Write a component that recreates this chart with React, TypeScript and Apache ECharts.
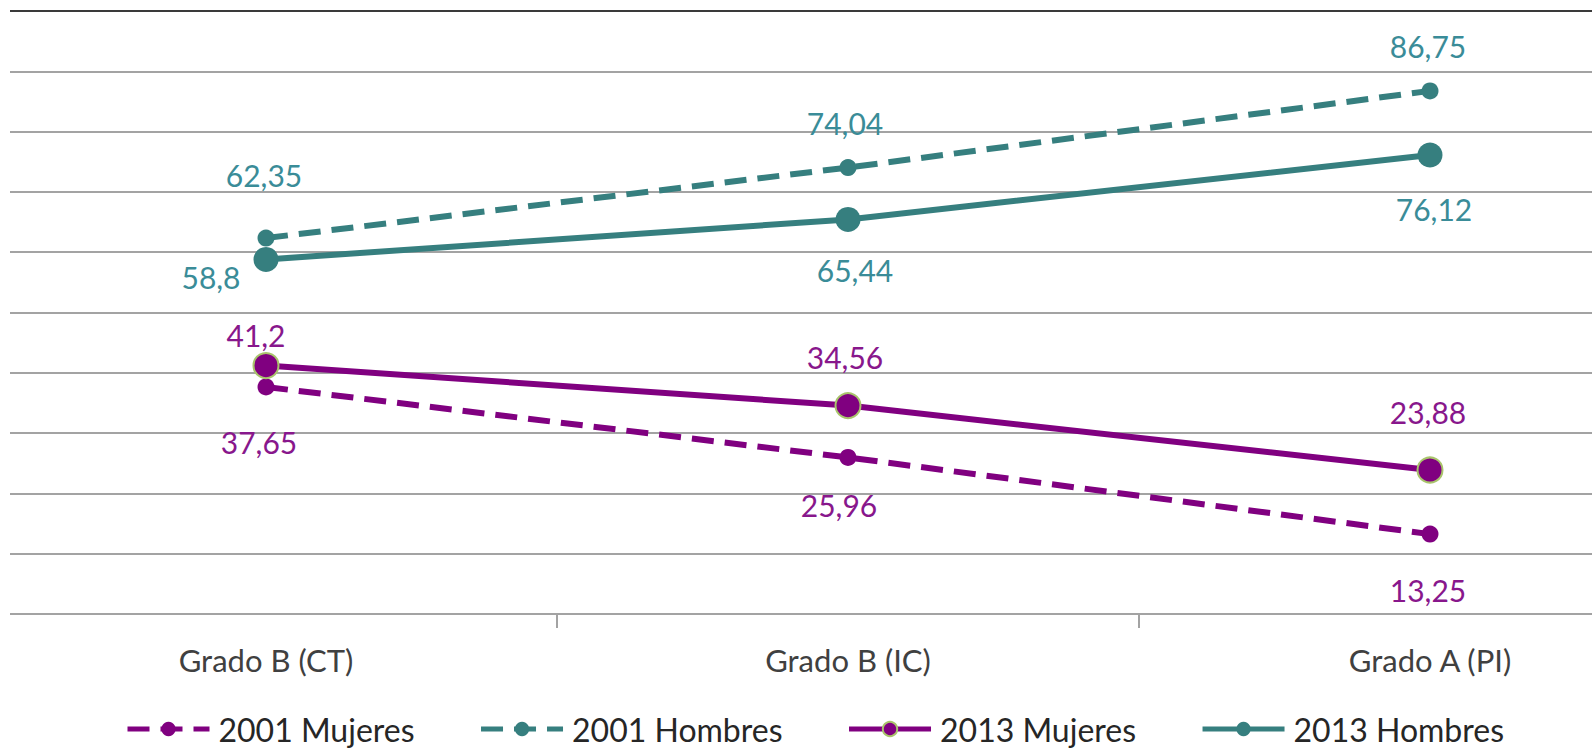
import React, { useEffect, useRef } from "react";
import * as echarts from "echarts";

const categories = ["Grado B (CT)", "Grado B (IC)", "Grado A (PI)"];
const mujeres2001 = [37.65, 25.96, 13.25];
const hombres2001 = [62.35, 74.04, 86.75];
const mujeres2013 = [41.2, 34.56, 23.88];
const hombres2013 = [58.8, 65.44, 76.12];
const seriesNames = ["2001 Mujeres", "2001 Hombres", "2013 Mujeres", "2013 Hombres"];

// label placement (style only)
const offMujeres2001 = [[-7, 55], [-9, 48], [-2, 56]];
const offHombres2001 = [[-2, -63], [-3, -45], [-2, -45]];
const offMujeres2013 = [[-10, -31], [-3, -49], [-2, -58]];
const offHombres2013 = [[-55, 18], [7, 51], [4, 54]];

const TEAL = "#367f7f";
const PURPLE = "#800080";
const TEAL_TXT = "#3a8c98";
const PURPLE_TXT = "#88178c";
const FONT = "Lato";

const fmt = (v: number) => String(v).replace(".", ",");

function mkSeries(
  name: string,
  values: number[],
  offsets: number[][],
  color: string,
  txt: string,
  dashed: boolean,
  symbolSize: number,
  border?: string
) {
  return {
    name,
    type: "line",
    data: values.map((v, i) => ({
      value: v,
      label: { offset: offsets[i] },
    })),
    symbol: "circle",
    symbolSize,
    lineStyle: {
      color,
      width: 6,
      type: dashed ? [22, 11] : "solid",
      cap: "butt",
    },
    itemStyle: {
      color,
      borderColor: border || color,
      borderWidth: border ? 2 : 0,
    },
    label: {
      show: true,
      position: "inside",
      formatter: (p: any) => fmt(p.value),
      color: txt,
      fontFamily: FONT,
      fontSize: 30,
    },
    z: dashed ? 2 : 3,
  };
}

export default function App() {
  const ref = useRef<HTMLDivElement>(null);
  useEffect(() => {
    if (!ref.current) return;
    const chart = echarts.init(ref.current, undefined, { renderer: "svg" });
    const gridColors = Array.from({ length: 10 }, () => "#a3a3a3").concat(["#3a3a3a"]);
    chart.setOption({
      animation: false,
      backgroundColor: "#ffffff",
      grid: {
        left: -25,
        width: 1746,
        top: 11,
        height: 603,
        containLabel: false,
        outerBoundsMode: "none",
      },
      xAxis: {
        type: "category",
        data: categories,
        boundaryGap: true,
        axisLine: { show: true, lineStyle: { color: "#a3a3a3", width: 2 } },
        axisTick: { show: true, length: 14, lineStyle: { color: "#a3a3a3", width: 2 } },
        axisLabel: { color: "#404040", fontFamily: FONT, fontSize: 31, margin: 30 },
      },
      yAxis: {
        type: "value",
        min: 0,
        max: 100,
        interval: 10,
        axisLine: { show: false },
        axisTick: { show: false },
        axisLabel: { show: false },
        splitLine: { show: true, lineStyle: { color: gridColors, width: 2 } },
      },
      legend: {
        data: seriesNames,
        left: 125,
        top: 713,
        padding: 0,
        itemWidth: 82,
        itemHeight: 18,
        itemGap: 64,
        lineStyle: { width: 5 },
        textStyle: {
          color: "#262626",
          fontFamily: FONT,
          fontSize: 32,
          lineHeight: 32,
          padding: [0, 0, 0, 4],
        },
      },
      graphic: [
        {
          type: "rect",
          shape: { x: 0, y: 0, width: 10, height: 640 },
          style: { fill: "#ffffff" },
          z: 100,
        },
      ],
      series: [
        mkSeries(seriesNames[0], mujeres2001, offMujeres2001, PURPLE, PURPLE_TXT, true, 17),
        mkSeries(seriesNames[1], hombres2001, offHombres2001, TEAL, TEAL_TXT, true, 17),
        mkSeries(seriesNames[2], mujeres2013, offMujeres2013, PURPLE, PURPLE_TXT, false, 25, "#a9c46c"),
        mkSeries(seriesNames[3], hombres2013, offHombres2013, TEAL, TEAL_TXT, false, 25),
      ],
    });
    return () => chart.dispose();
  }, []);
  return (
    <div
      ref={ref}
      style={{ position: "fixed", left: 0, top: 0, width: 1592, height: 751 }}
    />
  );
}
